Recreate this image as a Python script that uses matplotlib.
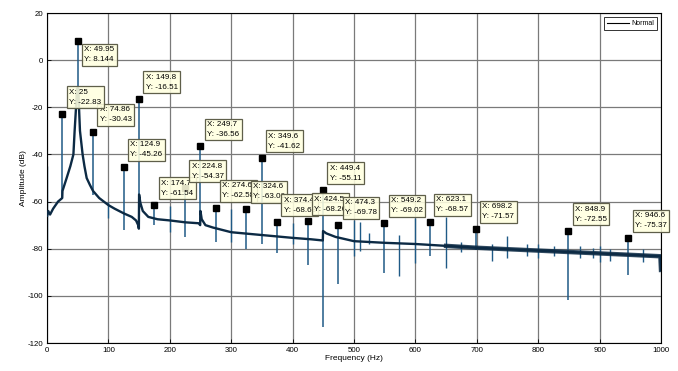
import matplotlib
matplotlib.use("Agg")
import matplotlib.pyplot as plt

plt.rcParams['font.family'] = ['Liberation Sans', 'DejaVu Sans']
plt.rcParams['axes.unicode_minus'] = False

# Baseline of the amplitude spectrum (Hz, dB)
floor_freq = [0.3, 2, 5, 10, 18, 24.8, 25.2, 32, 38, 43, 45, 47.3, 48.9,
              51.0, 52.1, 53.7, 58, 61, 64.6, 70, 75, 85, 95, 100, 110, 125,
              138, 145, 148.5, 149.6, 150.0, 152, 156, 165, 180, 200, 225,
              247, 249.5, 249.9, 252, 258, 270, 300, 350, 400, 430, 449.2,
              449.6, 455, 470, 500, 550, 600, 650, 700, 750, 800, 850, 900,
              950, 999, 1000]
floor_db = [-66, -64, -65.5, -63, -60, -58.5, -55.5, -50, -45, -40, -30, -20, -12,
            -12, -20, -30, -40, -45, -50, -53, -55.5, -58.5, -60.5, -61.5, -63, -65,
            -66.5, -68, -70, -71.5, -57, -60.5, -64, -66.5, -67.5, -68, -68.8,
            -69.2, -70, -64, -67.5, -70, -71, -73, -74.2, -75.4, -76, -76.5,
            -72.5, -73.5, -75, -76.8, -77.5, -78, -78.8, -79.6, -80.2, -80.8, -81.4, -82,
            -82.6, -83.2, -89]

# Narrow spectral lines without data tips: frequency, upper and lower end (dB)
line_freq = [0.3, 100, 200, 300, 400, 500, 510, 525, 574, 599, 650, 674, 724,
             749, 781, 800, 825, 868, 890, 900, 917, 971]
line_top = [-45, -60, -62, -63, -69, -67.8, -68.5, -73.5, -74, -67, -66.4, -77, -78,
            -74.5, -78, -78, -79, -79, -79.5, -79, -80, -80]
line_bottom = [-80, -67, -73, -77, -78, -83, -81, -78, -91.6, -86, -88.3, -81.5, -85,
               -84, -83, -84, -83, -84, -84, -85.5, -85, -85.5]

# Data tips (harmonic peaks) and the lower end of each spectral line
tip_x = [49.95, 74.86, 25, 124.9, 149.8, 174.7, 224.8, 249.7, 274.6, 324.6,
         349.6, 374.4, 424.5, 449.4, 474.3, 549.2, 623.1, 698.2, 848.9, 946.6]
tip_y = [8.144, -30.43, -22.83, -45.26, -16.51, -61.54, -54.37, -36.56, -62.58,
         -63.06, -41.62, -68.63, -68.26, -55.11, -69.78, -69.02, -68.57, -71.57,
         -72.55, -75.37]
tip_bottom = [-12, -57, -58.5, -72, -71.5, -70, -75, -70, -77, -80,
              -78, -82, -87, -113, -95, -90.3, -83, -80.6, -101.8, -91.2]

x_ticks = [0, 100, 200, 300, 400, 500, 600, 700, 800, 900, 1000]
y_ticks = [-120, -100, -80, -60, -40, -20, 0, 20]

trace_color = '#0c2a44'
line_color = '#1f5a86'

fig = plt.figure(figsize=(6.78, 3.71), dpi=100)
ax = fig.add_axes([47 / 678, 1 - 343 / 371, 614 / 678, 330 / 371])

ax.plot(floor_freq, floor_db, color=trace_color, lw=1.7, zorder=3,
        label='Normal', solid_joinstyle='round')
# heavier trace where the noise floor gets fuzzy
hf = [i for i, f in enumerate(floor_freq) if f >= 640]
ax.plot([floor_freq[i] for i in hf], [floor_db[i] for i in hf],
        color=trace_color, lw=3.2, alpha=0.85, zorder=3)

ax.vlines(line_freq, line_bottom, line_top, color=line_color, lw=1.0, zorder=2)
ax.vlines(tip_x, tip_bottom, tip_y, color=line_color, lw=1.1, zorder=2)

ax.plot(tip_x, tip_y, ls='none', marker='s', ms=3.8, color='black', zorder=5)

fs = 5.8
pad = 0.3
pad_pt = pad * fs
for i, (x, y) in enumerate(zip(tip_x, tip_y)):
    txt = f"X: {x:g}\nY: {y:g}"
    if y > 0:
        xytext = (3.0 + pad_pt, -2.2 - pad_pt)
        va = 'top'
    else:
        xytext = (3.1 + pad_pt, 4.3 + pad_pt)
        va = 'bottom'
    ax.annotate(txt, xy=(x, y), xytext=xytext, textcoords='offset points',
                ha='left', va=va, fontsize=fs, linespacing=1.6,
                annotation_clip=False,
                bbox=dict(boxstyle=f'square,pad={pad}', fc=(1, 1, 0.88, 0.88),
                          ec='#5f5f4a', lw=0.9),
                zorder=10 + i)

ax.set_xlim(0, 1000)
ax.set_ylim(-120, 20)
ax.set_xticks(x_ticks)
ax.set_yticks(y_ticks)
ax.tick_params(direction='in', length=3, width=0.6, labelsize=5.7, pad=3)
ax.grid(True, color='#7a7a7a', lw=0.9)
ax.set_axisbelow(True)
for s in ax.spines.values():
    s.set_linewidth(0.8)

ax.set_xlabel('Frequency (Hz)', fontsize=6, labelpad=0.5)
ax.set_ylabel('Amplitude (dB)', fontsize=6, labelpad=0.5)

leg = ax.legend(loc='upper right', fontsize=5, frameon=True, fancybox=False,
                handlelength=3.2, borderaxespad=0.6, borderpad=0.4,
                handletextpad=0.3)
leg.get_frame().set_edgecolor('black')
leg.get_frame().set_linewidth(0.7)
for h in leg.legend_handles:
    h.set_color('black')
    h.set_linewidth(0.8)

fig.savefig('out.png', dpi=100)
